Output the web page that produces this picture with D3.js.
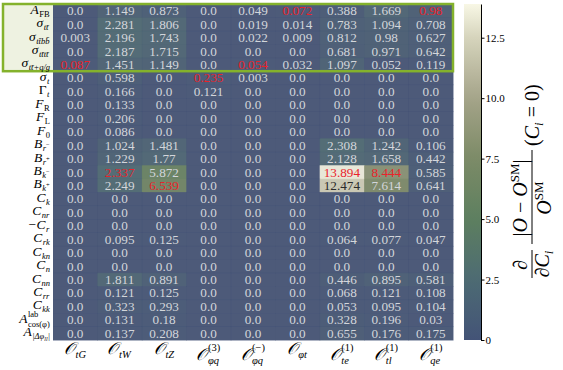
<!DOCTYPE html>
<html><head><meta charset="utf-8">
<script src="https://cdn.jsdelivr.net/npm/d3@7"></script>
<style>
body{margin:0;background:#fff}
svg{display:block}
text{font-family:"Liberation Serif","DejaVu Serif",serif}
</style>
</head><body>
<svg id="chart" width="563" height="370"></svg>
<script>
// Operators (columns)
const operators = ["tG","tW","tZ","phiq3","phiqm","phit","te1","tl1","qe1"];
const operatorLabels = [
  {sub:"tG"}, {sub:"tW"}, {sub:"tZ"},
  {sub:"φq", sup:"(3)"}, {sub:"φq", sup:"(−)"}, {sub:"φt"},
  {sub:"te", sup:"(1)"}, {sub:"tl", sup:"(1)"}, {sub:"qe", sup:"(1)"}
];
// Observables (rows)
const observables = ["AFB","sig_tt","sig_ttbb","sig_tttt","sig_ttj","sig_t","Gam_t","FR","FL","F0",
  "Brm","Brp","Bkm","Bkp","Ck","Cnr","mCr","Crk","Ckn","Cn","Cnn","Crr","Ckk","Acos","Adphi"];
const observableLabels = [
  {base:"A", sub:"FB", roman:true},
  {base:"σ", sub:"tt̄"},
  {base:"σ", sub:"tt̄bb̄"},
  {base:"σ", sub:"tt̄tt̄"},
  {base:"σ", sub:"tt̄+q/g"},
  {base:"σ", sub:"t"},
  {base:"Γ", sub:"t", upright:true},
  {base:"F", sub:"R", roman:true},
  {base:"F", sub:"L", roman:true},
  {base:"F", sub:"0", roman:true},
  {base:"B", sub:"r", subsup:"−"},
  {base:"B", sub:"r", subsup:"+"},
  {base:"B", sub:"k", subsup:"−"},
  {base:"B", sub:"k", subsup:"+"},
  {base:"C", sub:"k"},
  {base:"C", sub:"nr"},
  {base:"−C", sub:"r"},
  {base:"C", sub:"rk"},
  {base:"C", sub:"kn"},
  {base:"C", sub:"n"},
  {base:"C", sub:"nn"},
  {base:"C", sub:"rr"},
  {base:"C", sub:"kk"},
  {base:"A", sub:"cos(φ)", sup:"lab", roman:true},
  {base:"A", sub:"|Δφ", subsub:"ll", tail:"|"}
];
// Relative sensitivities, one array per observable (row), ordered as operators
const values = [
  [0.0, 1.149, 0.873, 0.0, 0.049, 0.072, 0.388, 1.669, 0.98],
  [0.0, 2.281, 1.806, 0.0, 0.019, 0.014, 0.783, 1.094, 0.708],
  [0.003, 2.196, 1.743, 0.0, 0.022, 0.009, 0.812, 0.98, 0.627],
  [0.0, 2.187, 1.715, 0.0, 0.0, 0.0, 0.681, 0.971, 0.642],
  [0.087, 1.451, 1.149, 0.0, 0.054, 0.032, 1.097, 0.052, 0.119],
  [0.0, 0.598, 0.0, 0.235, 0.003, 0.0, 0.0, 0.0, 0.0],
  [0.0, 0.166, 0.0, 0.121, 0.0, 0.0, 0.0, 0.0, 0.0],
  [0.0, 0.133, 0.0, 0.0, 0.0, 0.0, 0.0, 0.0, 0.0],
  [0.0, 0.206, 0.0, 0.0, 0.0, 0.0, 0.0, 0.0, 0.0],
  [0.0, 0.086, 0.0, 0.0, 0.0, 0.0, 0.0, 0.0, 0.0],
  [0.0, 1.024, 1.481, 0.0, 0.0, 0.0, 2.308, 1.242, 0.106],
  [0.0, 1.229, 1.77, 0.0, 0.0, 0.0, 2.128, 1.658, 0.442],
  [0.0, 2.337, 5.872, 0.0, 0.0, 0.0, 13.894, 8.444, 0.585],
  [0.0, 2.249, 6.539, 0.0, 0.0, 0.0, 12.474, 7.614, 0.641],
  [0.0, 0.0, 0.0, 0.0, 0.0, 0.0, 0.0, 0.0, 0.0],
  [0.0, 0.0, 0.0, 0.0, 0.0, 0.0, 0.0, 0.0, 0.0],
  [0.0, 0.0, 0.0, 0.0, 0.0, 0.0, 0.0, 0.0, 0.0],
  [0.0, 0.095, 0.125, 0.0, 0.0, 0.0, 0.064, 0.077, 0.047],
  [0.0, 0.0, 0.0, 0.0, 0.0, 0.0, 0.0, 0.0, 0.0],
  [0.0, 0.0, 0.0, 0.0, 0.0, 0.0, 0.0, 0.0, 0.0],
  [0.0, 1.811, 0.891, 0.0, 0.0, 0.0, 0.446, 0.895, 0.581],
  [0.0, 0.121, 0.125, 0.0, 0.0, 0.0, 0.068, 0.121, 0.108],
  [0.0, 0.323, 0.293, 0.0, 0.0, 0.0, 0.053, 0.095, 0.104],
  [0.0, 0.131, 0.18, 0.0, 0.0, 0.0, 0.328, 0.196, 0.03],
  [0.0, 0.137, 0.208, 0.0, 0.0, 0.0, 0.655, 0.176, 0.175]
];
const colorbarTicks = [0, 2.5, 5.0, 7.5, 10.0, 12.5];
const colorbarTickLabels = ["0", "2.5", "5.0", "7.5", "10.0", "12.5"];
const highlightedRows = 5; // the cross-section group framed at the top

const svg = d3.select("#chart");
const L = 53, R = 453, T = 4, B = 340;

const x = d3.scaleBand().domain(operators).range([L, R]);
const y = d3.scaleBand().domain(observables).range([T, B]);
const vmax = d3.max(values.flat());
const cmap = d3.scaleLinear()
  .domain([0, .18, .36, .54, .72, .9, 1].map(t => t * vmax))
  .range(["#435377","#4d6b73","#5d7f5f","#7c8b67","#a5a489","#d6d4bc","#f8f7e5"])
  .interpolate(d3.interpolateRgb);

// column maxima are shown in red
const colMax = operators.map((_, j) => d3.max(values, r => r[j]));

// highlighted label background
svg.append("rect").attr("x", 3).attr("y", T).attr("width", L - 3)
  .attr("height", y.step() * highlightedRows).attr("fill", "#eef2e1");

const cells = [];
values.forEach((row, i) => row.forEach((v, j) => cells.push({r: observables[i], c: operators[j], v, j})));

// neutral backing under the semi-transparent cells
svg.append("rect").attr("x", L).attr("y", T).attr("width", R - L).attr("height", B - T)
  .attr("fill", "#8a8a8a");

const g = svg.append("g");
g.selectAll("rect.cell").data(cells).join("rect").attr("class", "cell")
  .attr("x", d => x(d.c)).attr("y", d => y(d.r))
  .attr("width", x.bandwidth() + 0.5).attr("height", y.bandwidth() + 0.5)
  .attr("fill", d => cmap(d.v)).attr("fill-opacity", 0.86);

g.selectAll("text.val").data(cells).join("text").attr("class", "val")
  .attr("x", d => x(d.c) + x.bandwidth() / 2)
  .attr("y", d => y(d.r) + y.bandwidth() / 2 + 4.5)
  .attr("text-anchor", "middle").attr("font-size", 13.2)
  .attr("fill", d => d.v === colMax[d.j] ? "#e8232b" : (d.v > 10 ? "#2b2b2b" : "#d3d6db"))
  .text(d => d.v.toString().includes(".") ? d.v.toString() : d.v.toFixed(1));

// frame around the top group
svg.append("rect").attr("x", 3).attr("y", T).attr("width", R - 3)
  .attr("height", y.step() * highlightedRows)
  .attr("fill", "none").attr("stroke", "#84b22c").attr("stroke-width", 2.5);

// row labels
observableLabels.forEach((lab, i) => {
  const lg = svg.append("g");
  const base = lg.append("text").attr("x", 0).attr("y", 0).attr("font-size", 13.5)
    .attr("font-style", lab.upright ? "normal" : "italic").text(lab.base);
  const w = base.node().getComputedTextLength() + 0.5;
  if (lab.sup) {
    lg.append("text").attr("x", w).attr("y", -5.5).attr("font-size", 8.5).text(lab.sup);
  }
  if (lab.sub) {
    const st = lg.append("text").attr("x", w).attr("y", lab.sup ? 4 : 3).attr("font-size", 8.5)
      .attr("font-style", lab.roman ? "normal" : "italic");
    st.append("tspan").text(lab.sub);
    if (lab.subsup) st.append("tspan").attr("dy", -4).attr("font-size", 6.5).attr("font-style", "normal").text(lab.subsup);
    if (lab.subsub) st.append("tspan").attr("dy", 1.5).attr("font-size", 6).text(lab.subsub);
    if (lab.tail) st.append("tspan").attr("dy", -1.5).text(lab.tail);
  }
  const bb = lg.node().getBBox();
  lg.attr("transform", `translate(${50 - (bb.x + bb.width)},${y(observables[i]) + y.bandwidth() / 2 + 3})`);
});

// column labels
operatorLabels.forEach((lab, j) => {
  const cx = x(operators[j]) + x.bandwidth() / 2;
  const base = lab.sup ? 360 : 354;
  const lg = svg.append("g");
  const o = lg.append("text").attr("x", 0).attr("y", 0).attr("font-size", 17)
    .attr("font-style", "italic").text("𝒪");
  const w = o.node().getComputedTextLength() + 0.5;
  lg.append("text").attr("x", w).attr("y", 4).attr("font-size", 10.5).attr("font-style", "italic").text(lab.sub);
  if (lab.sup) lg.append("text").attr("x", w).attr("y", -9).attr("font-size", 10.5).text(lab.sup);
  const bb = lg.node().getBBox();
  lg.attr("transform", `translate(${cx - bb.x - bb.width / 2},${base})`);
});

// colour bar
const cbX = 464, cbW = 17;
const cy = d3.scaleLinear().domain([0, vmax]).range([B, T]);
const defs = svg.append("defs");
const grad = defs.append("linearGradient").attr("id", "cbgrad")
  .attr("x1", 0).attr("y1", 1).attr("x2", 0).attr("y2", 0);
d3.range(0, 1.0001, 0.05).forEach(t => grad.append("stop")
  .attr("offset", t).attr("stop-color", cmap(t * vmax)));
svg.append("rect").attr("x", cbX).attr("y", T).attr("width", cbW).attr("height", B - T)
  .attr("fill", "url(#cbgrad)");
const cbAxis = d3.axisRight(cy).tickValues(colorbarTicks)
  .tickFormat((d, i) => colorbarTickLabels[i]).tickSize(3.5).tickSizeOuter(0);
const ax = svg.append("g").attr("transform", `translate(${cbX + cbW},0)`).call(cbAxis);
ax.select(".domain").attr("stroke", "#000").attr("stroke-width", 1);
ax.selectAll("text").attr("font-size", 11).attr("dx", -2);

// colour bar label, rotated
const lbl = svg.append("g").attr("transform", "translate(532,178) rotate(-90)");
const fs = 20;
// d/dC_i
lbl.append("text").attr("x", -87).attr("y", -5).attr("font-size", fs).attr("font-style", "italic")
  .attr("text-anchor", "middle").text("∂");
lbl.append("line").attr("x1", -100).attr("x2", -72).attr("y1", 0).attr("y2", 0).attr("stroke", "#000").attr("stroke-width", 1);
const dc = lbl.append("text").attr("x", -86).attr("y", 17).attr("font-size", fs).attr("font-style", "italic")
  .attr("text-anchor", "middle");
dc.append("tspan").text("∂C");
dc.append("tspan").attr("dy", 4).attr("font-size", 13).text("i");
// |O - O^SM| / O^SM
const num = lbl.append("text").attr("x", -20).attr("y", -5).attr("font-size", fs).attr("text-anchor", "middle");
num.append("tspan").text("|");
num.append("tspan").attr("font-style", "italic").text("O");
num.append("tspan").text(" − ");
num.append("tspan").attr("font-style", "italic").text("O");
num.append("tspan").attr("dy", -8).attr("font-size", 13).text("SM");
num.append("tspan").attr("dy", 8).text("|");
lbl.append("line").attr("x1", -66).attr("x2", 28).attr("y1", 0).attr("y2", 0).attr("stroke", "#000").attr("stroke-width", 1);
const den = lbl.append("text").attr("x", -20).attr("y", 19).attr("font-size", fs).attr("text-anchor", "middle");
den.append("tspan").attr("font-style", "italic").text("O");
den.append("tspan").attr("dy", -8).attr("font-size", 13).text("SM");
// (C_i = 0)
const par = lbl.append("text").attr("x", 32).attr("y", 7).attr("font-size", fs);
par.append("tspan").text("(");
par.append("tspan").attr("font-style", "italic").text("C");
par.append("tspan").attr("dy", 4).attr("font-size", 13).attr("font-style", "italic").text("i");
par.append("tspan").attr("dy", -4).text(" = 0)");
</script>
</body></html>
